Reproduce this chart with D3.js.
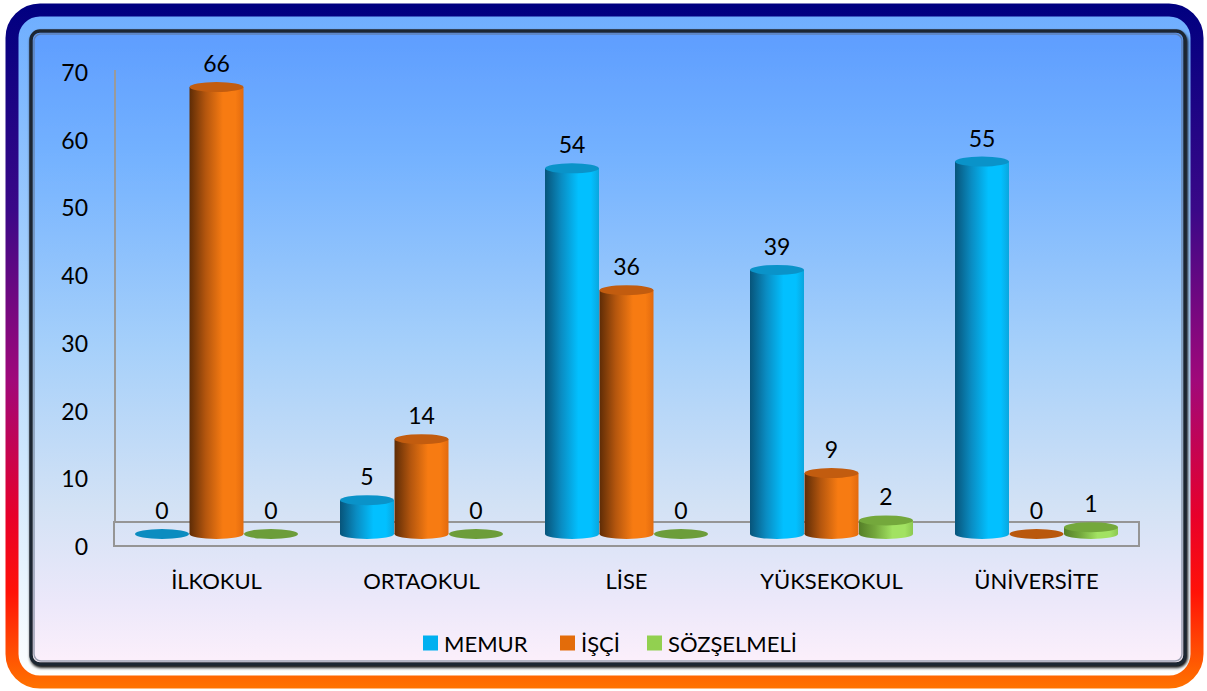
<!DOCTYPE html>
<html lang="tr">
<head>
<meta charset="UTF-8">
<title>Eğitim Durumu</title>
<script src="https://d3js.org/d3.v7.min.js"></script>
<style>
body{ margin:0; background:#fff; }
svg{ display:block; }
text{ font-family: Lato, "Open Sans", sans-serif; fill:#000; }
.tick{ font-size:23px; }
.cat{ font-size:22px; }
.val{ font-size:23px; }
.leg{ font-size:22px; }
</style>
</head>
<body>
<svg id="chart" width="1207" height="691"></svg>
<script>
const categories = ["İLKOKUL", "ORTAOKUL", "LİSE", "YÜKSEKOKUL", "ÜNİVERSİTE"]
const series = ["MEMUR", "İŞÇİ", "SÖZŞELMELİ"]
const memur = [0, 5, 54, 39, 55]
const isci = [66, 14, 36, 9, 0]
const sozlesmeli = [0, 0, 0, 2, 1]
const yTicks = [0, 10, 20, 30, 40, 50, 60, 70]

const values = [memur, isci, sozlesmeli]

// colours per series: dark side, mid, highlight, right edge, top cap, flat zero disc, legend
const palette = [
    {dark:"#07547a", mid:"#0a8cc2", light:"#02c0ff", edge:"#0aa6de", top:"#0a93c9", zero:"#0b8cc0", legend:"#00b0f0"},
    {dark:"#5e2c06", mid:"#b4560e", light:"#f77b12", edge:"#e26a0e", top:"#c25c0f", zero:"#b9580d", legend:"#e36c0a"},
    {dark:"#557f28", mid:"#74a83c", light:"#a2e262", edge:"#8cc850", top:"#74a83c", zero:"#6c9d3a", legend:"#92d050"}
]

const svg = d3.select("#chart")
const defs = svg.append("defs")

// frame gradients
const ring = defs.append("linearGradient").attr("id","ring")
    .attr("gradientUnits","userSpaceOnUse").attr("x1",0).attr("y1",4).attr("x2",0).attr("y2",688)
ring.selectAll("stop")
    .data([[0,"#000080"],[0.3,"#3a0888"],[0.55,"#a0087a"],[0.75,"#e8002a"],[0.86,"#ff1208"],[1,"#ff7200"]])
    .join("stop").attr("offset",d=>d[0]).attr("stop-color",d=>d[1])

const panel = defs.append("linearGradient").attr("id","panel")
    .attr("gradientUnits","userSpaceOnUse").attr("x1",0).attr("y1",30).attr("x2",0).attr("y2",666)
panel.selectAll("stop")
    .data([[0,"#5e9dff"],[0.2,"#74b2ff"],[0.5,"#a6d0fa"],[0.75,"#d3e2f5"],[0.9,"#ece8fa"],[1,"#fdf0fb"]])
    .join("stop").attr("offset",d=>d[0]).attr("stop-color",d=>d[1])

const band = defs.append("linearGradient").attr("id","band")
    .attr("gradientUnits","userSpaceOnUse").attr("x1",0).attr("y1",10).attr("x2",0).attr("y2",682)
band.selectAll("stop")
    .data([[0,"#6eaeff"],[0.5,"#b6dafc"],[1,"#ffffff"]])
    .join("stop").attr("offset",d=>d[0]).attr("stop-color",d=>d[1])

const shadow = defs.append("filter").attr("id","shadow")
    .attr("x","-5%").attr("y","-5%").attr("width","110%").attr("height","110%")
shadow.append("feGaussianBlur").attr("in","SourceAlpha").attr("stdDeviation",1.5).attr("result","b")
shadow.append("feOffset").attr("in","b").attr("dx",1).attr("dy",2).attr("result","o")
const merge = shadow.append("feMerge")
merge.append("feMergeNode").attr("in","o")
merge.append("feMergeNode").attr("in","SourceGraphic")

// cylinder body gradients
palette.forEach((p,i)=>{
    const g = defs.append("linearGradient").attr("id","cyl"+i)
        .attr("x1",0).attr("y1",0).attr("x2",1).attr("y2",0)
    g.selectAll("stop")
        .data([[0,p.dark],[0.3,p.mid],[0.62,p.light],[0.85,p.light],[1,p.edge]])
        .join("stop").attr("offset",d=>d[0]).attr("stop-color",d=>d[1])
})

// frame
svg.append("rect").attr("x",12).attr("y",10).attr("width",1185).attr("height",672)
    .attr("rx",28).attr("fill","url(#band)")
    .attr("stroke","url(#ring)").attr("stroke-width",13)
svg.append("rect").attr("x",31).attr("y",31).attr("width",1154).attr("height",633)
    .attr("rx",9).attr("fill","url(#panel)")
    .attr("stroke","#1f2630").attr("stroke-width",3.5)
    .attr("filter","url(#shadow)")
svg.append("rect").attr("x",34).attr("y",34).attr("width",1148).attr("height",627)
    .attr("rx",7).attr("fill","none")
    .attr("stroke","#5d6b80").attr("stroke-opacity",0.6).attr("stroke-width",1.5)

// scales
const left = 114, right = 1139
const floorTop = 522, floorBottom = 546
const depthShift = 12

const x0 = d3.scaleBand().domain(categories).range([left, right])
const barW = 54
const x1 = d3.scaleBand().domain(series).range([0, 163.5])
const y = d3.scaleLinear().domain([0, 70]).range([546, 72])

// wall and floor
svg.append("line").attr("x1",left+1).attr("x2",left+1).attr("y1",70).attr("y2",floorTop)
    .attr("stroke","#9a9a9a").attr("stroke-width",2)
svg.append("rect").attr("x",left).attr("y",floorTop).attr("width",right-left).attr("height",floorBottom-floorTop)
    .attr("fill","none").attr("stroke","#959595").attr("stroke-width",2)

// y tick labels
svg.append("g").selectAll("text").data(yTicks).join("text")
    .attr("class","tick")
    .attr("x",88).attr("y",d=>y(d))
    .attr("text-anchor","end").attr("dominant-baseline","central")
    .text(d=>d)

// bars
const bars = []
categories.forEach((c,ci)=>{
    series.forEach((s,si)=>{
        bars.push({cat:c, ser:s, si:si, v:values[si][ci]})
    })
})

const rx = barW/2, ry = 5
const barG = svg.append("g")
bars.forEach(d=>{
    const cx = x0(d.cat) + (x0.bandwidth()-x1.range()[1])/2 + x1(d.ser) + x1.bandwidth()/2
    const yb = y(0) - depthShift
    const yt = y(d.v) - depthShift
    const p = palette[d.si]
    const g = barG.append("g")
    if (d.v === 0) {
        g.append("ellipse").attr("cx",cx).attr("cy",yb).attr("rx",rx).attr("ry",ry).attr("fill",p.zero)
    } else {
        g.append("ellipse").attr("cx",cx).attr("cy",yb).attr("rx",rx).attr("ry",ry).attr("fill","url(#cyl"+d.si+")")
        g.append("rect").attr("x",cx-rx).attr("y",yt).attr("width",barW).attr("height",yb-yt)
            .attr("fill","url(#cyl"+d.si+")")
        g.append("ellipse").attr("cx",cx).attr("cy",yt).attr("rx",rx).attr("ry",ry).attr("fill",p.top)
    }
    g.append("text").attr("class","val")
        .attr("x",cx).attr("y",yt-24)
        .attr("text-anchor","middle").attr("dominant-baseline","central")
        .text(d.v)
})

// category labels
svg.append("g").selectAll("text").data(categories).join("text")
    .attr("class","cat")
    .attr("x",d=>x0(d)+x0.bandwidth()/2).attr("y",580)
    .attr("text-anchor","middle").attr("dominant-baseline","central")
    .text(d=>d)

// legend
const legendX = [423, 560, 647]
const legend = svg.append("g").selectAll("g").data(series).join("g")
    .attr("transform",(d,i)=>`translate(${legendX[i]},643)`)
legend.append("rect").attr("x",0).attr("y",-7.5).attr("width",15).attr("height",15)
    .attr("fill",(d,i)=>palette[i].legend)
legend.append("text").attr("class","leg").attr("x",21).attr("y",0)
    .attr("dominant-baseline","central").text(d=>d)
</script>
</body>
</html>
